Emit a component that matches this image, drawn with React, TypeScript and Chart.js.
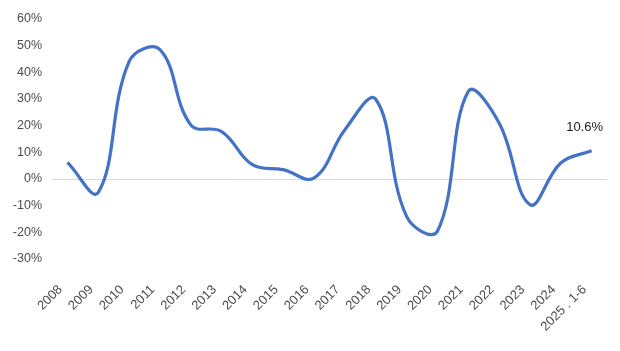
import React, { useEffect, useRef } from "react";
import { Chart, registerables } from "chart.js";

Chart.register(...registerables);

const categories = [
  "2008", "2009", "2010", "2011", "2012", "2013", "2014", "2015", "2016",
  "2017", "2018", "2019", "2020", "2021", "2022", "2023", "2024", "2025 . 1-6",
];
const growthValues = [
  6.2, -5.0, 44.0, 48.5, 20.3, 17.8, 5.4, 3.5, 0.4,
  18.5, 29.9, -14.0, -19.6, 32.8, 21.0, -9.6, 6.0, 10.6,
];
const lastLabel = "10.6%";
const yTickMin = -30;
const yTickMax = 60;
const yTickStep = 10;

const FONT = "'Liberation Sans', Arial, sans-serif";

export default function App() {
  const canvasRef = useRef<HTMLCanvasElement | null>(null);

  useEffect(() => {
    if (!canvasRef.current) return;
    const labelPlugin = {
      id: "lastLabel",
      afterDatasetsDraw(chart: any) {
        const meta = chart.getDatasetMeta(0);
        const pt = meta.data[meta.data.length - 1];
        if (!pt) return;
        const ctx = chart.ctx;
        ctx.save();
        ctx.font = `13px ${FONT}`;
        ctx.fillStyle = "#1a1a1a";
        ctx.textAlign = "center";
        ctx.textBaseline = "middle";
        ctx.fillText(lastLabel, pt.x - 7, pt.y - 23);
        ctx.restore();
      },
    };
    const chart = new Chart(canvasRef.current, {
      type: "line",
      data: {
        labels: categories,
        datasets: [
          {
            data: growthValues,
            borderColor: "#4472C4",
            borderWidth: 3.2,
            pointRadius: 0,
            tension: 0.4,
            fill: false,
          },
        ],
      },
      options: {
        animation: false,
        responsive: true,
        maintainAspectRatio: false,
        layout: { padding: { top: 19, right: 13, left: 0, bottom: 0 } },
        plugins: { legend: { display: false }, tooltip: { enabled: false } },
        scales: {
          x: {
            offset: true,
            grid: { display: false },
            border: { display: false },
            afterFit: (s: any) => {
              s.height = 92;
              s.paddingLeft = 0;
              s.paddingRight = 0;
            },
            ticks: {
              minRotation: 45,
              maxRotation: 45,
              autoSkip: false,
              padding: 15,
              labelOffset: -7,
              color: "#4d4d4d",
              font: { family: FONT, size: 13 },
            },
          },
          y: {
            min: yTickMin,
            max: yTickMax,
            afterFit: (s: any) => {
              s.width = 52;
            },
            grid: {
              drawTicks: false,
              color: (c: any) => (c.tick && c.tick.value === 0 ? "#D9D9D9" : "rgba(0,0,0,0)"),
              lineWidth: 1,
            },
            border: { display: false },
            ticks: {
              stepSize: yTickStep,
              padding: 10,
              color: "#4d4d4d",
              font: { family: FONT, size: 12.5 },
              callback: (v: any) => `${v}%`,
            },
          },
        },
      },
      plugins: [labelPlugin],
    });
    return () => chart.destroy();
  }, []);

  return (
    <div style={{ position: "absolute", left: 0, top: 0, width: 620, height: 351, background: "#fff" }}>
      <canvas ref={canvasRef} />
    </div>
  );
}
